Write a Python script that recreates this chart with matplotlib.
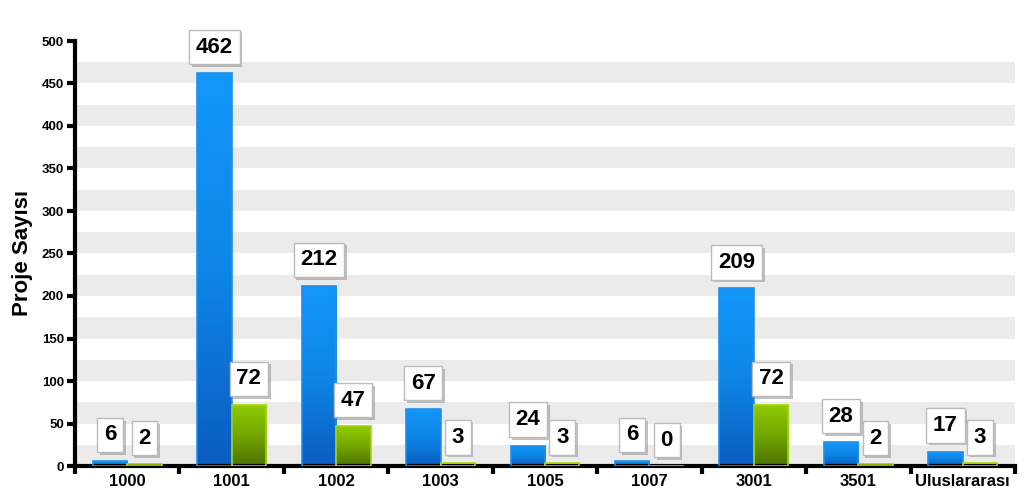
import numpy as np
import matplotlib
matplotlib.use("Agg")
from matplotlib import pyplot as plt
from matplotlib import patheffects as pe
from matplotlib.colors import LinearSegmentedColormap

categories = ["1000", "1001", "1002", "1003", "1005", "1007", "3001", "3501", "Uluslararası"]
blue_values = [6, 462, 212, 67, 24, 6, 209, 28, 17]
green_values = [2, 72, 47, 3, 3, 0, 72, 2, 3]
y_ticks = [0, 50, 100, 150, 200, 250, 300, 350, 400, 450, 500]

plt.rcParams['font.family'] = ['Liberation Sans', 'DejaVu Sans']

fig = plt.figure(figsize=(10.24, 4.98), dpi=100)
ax = fig.add_axes([75 / 1024, 1 - 466 / 498, 940 / 1024, 425 / 498])

# striped background
for lo in range(0, 500, 50):
    ax.axhspan(lo, lo + 25, color='#ebebeb', lw=0, zorder=0)

x = np.arange(len(categories))
w = 0.33
blue_bars = ax.bar(x - w / 2, blue_values, w, color='none', edgecolor='#1f8fe8', lw=1.2, zorder=3)
green_bars = ax.bar(x + w / 2, green_values, w, color='none', edgecolor='#a6d800', lw=1.2, zorder=3)

blue_cmap = LinearSegmentedColormap.from_list("b", ["#0a5cc0", "#0e86e6", "#1398fa"])
green_cmap = LinearSegmentedColormap.from_list("g", ["#4a7200", "#74a600", "#90cc00"])
grad = np.linspace(0, 1, 256).reshape(-1, 1)

def fill_gradient(bars, cmap):
    for b in bars:
        if b.get_height() <= 0:
            continue
        x0, y0 = b.get_x(), b.get_y()
        im = ax.imshow(grad, extent=[x0, x0 + b.get_width(), y0, y0 + b.get_height()],
                       origin='lower', cmap=cmap, aspect='auto', zorder=2)
        im.set_clip_path(b)

fill_gradient(blue_bars, blue_cmap)
fill_gradient(green_bars, green_cmap)

ax.set_xlim(-0.5, len(categories) - 0.5)
ax.set_ylim(0, 500)

# value labels in boxes
def label(bars, values):
    for b, v in zip(bars, values):
        cx = b.get_x() + b.get_width() / 2
        t = ax.annotate(str(v), (cx, v), xytext=(0, 26), textcoords='offset pixels',
                        ha='center', va='center', fontsize=16, fontweight='bold', zorder=5,
                        bbox=dict(boxstyle='square,pad=0.3', fc='white', ec='#bbbbbb', lw=1))
        t.get_bbox_patch().set_path_effects([pe.SimplePatchShadow(offset=(2, -2), shadow_rgbFace='#999999', alpha=0.6), pe.Normal()])

label(blue_bars, blue_values)
label(green_bars, green_values)

ax.set_yticks(y_ticks)
ax.set_yticklabels([str(t) for t in y_ticks], fontsize=9.5, fontweight='bold')
ax.set_xticks(np.arange(len(categories) + 1) - 0.5)
ax.set_xticklabels([])
ax.set_xticks(x, minor=True)
ax.set_xticklabels(categories, minor=True, fontsize=12, fontweight='bold')
ax.tick_params(axis='x', which='minor', length=0, pad=6)
ax.tick_params(axis='x', which='major', length=6, width=3, direction='out')
ax.tick_params(axis='y', length=6, width=3, direction='out', pad=2)

for s in ['top', 'right']:
    ax.spines[s].set_visible(False)
ax.spines['left'].set_linewidth(3)
ax.spines['bottom'].set_linewidth(3)

ax.set_ylabel("Proje Sayısı", fontsize=16, fontweight='bold', labelpad=6)

fig.savefig("out.png", dpi=100)
